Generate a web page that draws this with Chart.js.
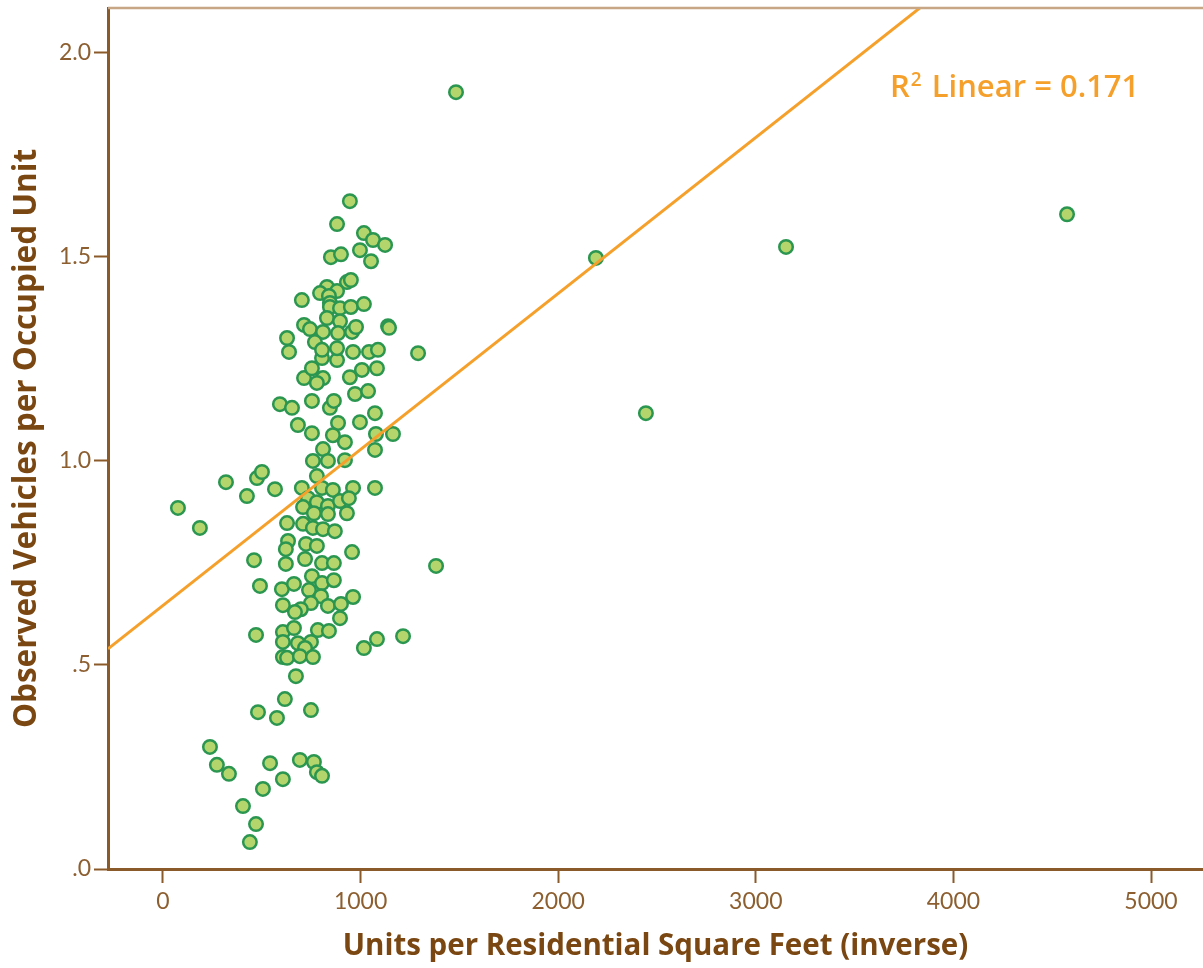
<!DOCTYPE html>
<html><head><meta charset="utf-8">
<script src="https://cdn.jsdelivr.net/npm/chart.js@4/dist/chart.umd.min.js"></script>
<style>html,body{margin:0;padding:0;background:#fff;overflow:hidden}canvas{display:block}</style>
</head><body>
<canvas id="c" width="1203" height="968" style="width:1203px;height:968px"></canvas>
<script>
// Units per residential square feet (inverse)
const xValues = [
 1483,2191,3153,4575,2444,1291,1382,1164,1215,1083,1017,76,187,319,425,476,501,567,592,653,957,
 673,617,481,577,749,238,273,334,542,693,764,779,805,607,506,405,471,440,461,491,471,
 628,709,759,810,870,633,622,724,779,622,719,805,865,754,805,865,602,663,739,800,749,607,698,668,835,901,962,896,
 607,663,784,840,607,683,749,719,607,628,693,759,
 638,683,754,754,845,865,714,754,805,810,779,881,881,962,1043,1088,946,1007,1083,972,1038,886,860,921,997,1073,1078,1073,
 810,759,835,921,779,703,805,860,962,1073,734,779,835,896,941,709,764,835,931,
 946,881,1017,1063,1124,997,1053,850,901,931,951,830,881,795,840,845,703,845,896,951,1017,830,896,1139,1144,714,744,810,886,957,977,628,769,805
];
// Observed vehicles per occupied unit
const yValues = [
 1.902,1.496,1.523,1.603,1.116,1.263,0.742,1.065,0.570,0.563,0.541,0.884,0.835,0.947,0.913,0.957,0.972,0.930,1.138,1.129,0.776,
 0.472,0.416,0.384,0.370,0.389,0.299,0.255,0.233,0.259,0.267,0.262,0.237,0.228,0.220,0.196,0.154,0.110,0.066,0.756,0.693,0.573,
 0.847,0.845,0.835,0.832,0.827,0.803,0.783,0.796,0.791,0.747,0.759,0.749,0.749,0.717,0.700,0.707,0.685,0.698,0.683,0.668,0.651,0.646,0.636,0.629,0.644,0.649,0.666,0.614,
 0.580,0.590,0.585,0.583,0.556,0.553,0.556,0.541,0.519,0.517,0.521,0.519,
 1.266,1.087,1.067,1.146,1.129,1.146,1.202,1.226,1.251,1.202,1.190,1.246,1.275,1.266,1.266,1.271,1.204,1.222,1.226,1.163,1.170,1.092,1.062,1.045,1.094,1.116,1.065,1.026,
 1.028,0.999,0.999,1.001,0.962,0.933,0.933,0.928,0.933,0.933,0.908,0.898,0.889,0.901,0.908,0.886,0.871,0.869,0.871,
 1.635,1.579,1.557,1.540,1.528,1.515,1.488,1.498,1.505,1.437,1.442,1.425,1.415,1.410,1.403,1.386,1.393,1.376,1.373,1.376,1.383,1.349,1.341,1.329,1.325,1.332,1.322,1.315,1.312,1.315,1.327,1.300,1.290,1.271
];
const xTickValues = [0,1000,2000,3000,4000,5000];
const xTickLabels = ['0','1000','2000','3000','4000','5000'];
const yTickValues = [0,0.5,1,1.5,2];
const yTickLabels = ['.0','.5','1.0','1.5','2.0'];
const fitIntercept = 0.645;
const fitSlope = 0.000382;
const fitLabelParts = ['R', '2', ' Linear = 0.171'];
const xAxisTitle = 'Units per Residential Square Feet (inverse)';
const yAxisTitle = 'Observed Vehicles per Occupied Unit';

const X_MIN = -278, X_MAX = 5263, Y_MIN = 0, Y_MAX = 2.108;
const TITLE_FONT = 'Open Sans';
const TICK_FONT = 'Lato';
const TICK_COLOR = '#8d5f30', TITLE_COLOR = '#7a4712', AXIS_COLOR = '#8b5a2b';
const ORANGE = '#f6a02c';

const points = xValues.map((x, i) => ({x, y: yValues[i]}));
const fitLine = [X_MIN, X_MAX].map(x => ({x, y: fitIntercept + fitSlope * x}));

const extras = {
  id: 'extras',
  afterDraw(chart) {
    const {ctx, chartArea, scales} = chart;
    ctx.save();
    ctx.strokeStyle = '#c6a684';
    ctx.lineWidth = 2.5;
    ctx.beginPath();
    ctx.moveTo(chartArea.left, chartArea.top);
    ctx.lineTo(chartArea.right, chartArea.top);
    ctx.stroke();
    ctx.fillStyle = ORANGE;
    ctx.textAlign = 'left';
    ctx.textBaseline = 'alphabetic';
    let x = scales.x.getPixelForValue(3679);
    const y = scales.y.getPixelForValue(1.89);
    ctx.font = '600 31px ' + TITLE_FONT;
    ctx.fillText(fitLabelParts[0], x, y);
    x += ctx.measureText(fitLabelParts[0]).width + 1;
    ctx.font = '600 19px ' + TITLE_FONT;
    ctx.fillText(fitLabelParts[1], x, y - 11);
    x += ctx.measureText(fitLabelParts[1]).width + 2;
    ctx.font = '600 31px ' + TITLE_FONT;
    ctx.fillText(fitLabelParts[2], x, y);
    ctx.restore();
  }
};

new Chart(document.getElementById('c'), {
  data: {
    datasets: [
      {type: 'line', data: fitLine, borderColor: ORANGE, borderWidth: 3, pointRadius: 0, fill: false, order: 0},
      {type: 'scatter', data: points, backgroundColor: '#b4d56c', borderColor: '#2a9650', borderWidth: 2.5, pointRadius: 6.75, order: 1}
    ]
  },
  options: {
    responsive: false,
    animation: false,
    devicePixelRatio: 1,
    layout: {autoPadding: false, padding: {top: 8, right: 0, left: 0, bottom: 0}},
    plugins: {legend: {display: false}, tooltip: {enabled: false}},
    scales: {
      x: {
        type: 'linear', min: X_MIN, max: X_MAX,
        afterFit(s) { s.height = 99; s.paddingLeft = 0; s.paddingRight = 0; },
        afterBuildTicks(s) { s.ticks = xTickValues.map(v => ({value: v})); },
        ticks: {includeBounds: false, padding: 5, color: TICK_COLOR, font: {family: TICK_FONT, size: 23},
                callback: (v) => xTickLabels[xTickValues.indexOf(v)], maxRotation: 0},
        grid: {drawOnChartArea: false, drawTicks: true, tickLength: 14, tickColor: AXIS_COLOR, tickWidth: 2},
        border: {display: true, color: AXIS_COLOR, width: 3},
        title: {display: true, text: xAxisTitle, color: TITLE_COLOR, font: {family: TITLE_FONT, size: 29.5, weight: 'bold'}, padding: 4}
      },
      y: {
        type: 'linear', min: Y_MIN, max: Y_MAX,
        afterFit(s) { s.width = 108; s.paddingTop = 0; s.paddingBottom = 0; },
        afterBuildTicks(s) { s.ticks = yTickValues.map(v => ({value: v})); },
        ticks: {includeBounds: false, padding: 3, color: TICK_COLOR, font: {family: TICK_FONT, size: 23},
                callback: (v) => yTickLabels[yTickValues.indexOf(v)]},
        grid: {drawOnChartArea: false, drawTicks: true, tickLength: 14, tickColor: AXIS_COLOR, tickWidth: 2},
        border: {display: true, color: AXIS_COLOR, width: 3},
        title: {display: true, text: yAxisTitle, color: TITLE_COLOR, font: {family: TITLE_FONT, size: 31.5, weight: 'bold'}, padding: 8}
      }
    }
  },
  plugins: [extras]
});
</script>
</body></html>
